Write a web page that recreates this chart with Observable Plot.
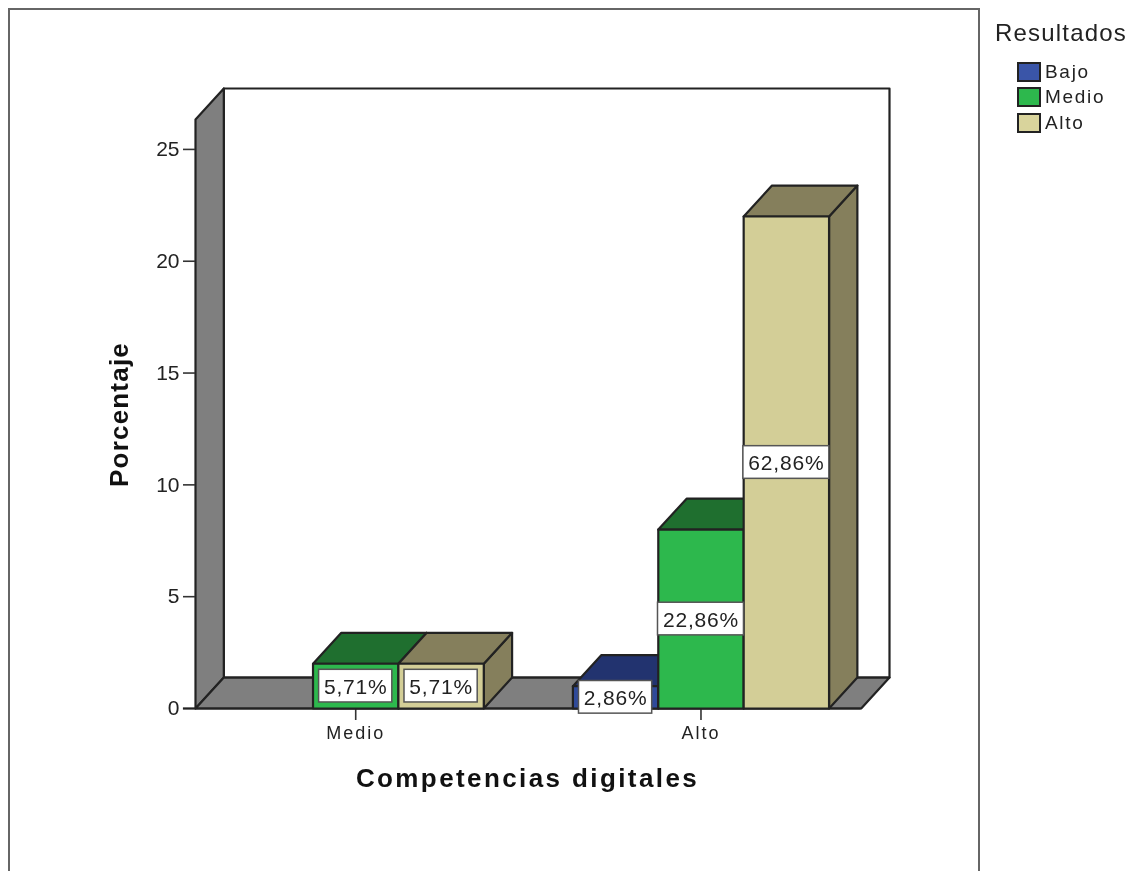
<!DOCTYPE html>
<html lang="es">
<head>
<meta charset="utf-8">
<script src="https://cdn.jsdelivr.net/npm/d3@7"></script>
<script src="https://cdn.jsdelivr.net/npm/@observablehq/plot@0.6"></script>
<style>
  html,body{margin:0;padding:0;background:#fff;}
  #wrap{position:relative;width:1137px;height:871px;overflow:hidden;font-family:"Liberation Sans",Arial,sans-serif;color:#222;filter:blur(0.5px);}
  #frame{position:absolute;left:8px;top:8px;width:968px;height:875px;border:2px solid #666;box-sizing:content-box;}
  #legend{position:absolute;left:995px;top:20px;}
  #legend .t{font-size:24px;letter-spacing:1.2px;line-height:26px;white-space:nowrap;}
  #legend .r{position:absolute;left:22px;height:20px;display:flex;align-items:center;font-size:19px;letter-spacing:1.7px;white-space:nowrap;}
  #legend .s{width:20px;height:16px;border:2px solid #222;margin-right:4px;letter-spacing:0;}
  svg{position:absolute;left:0;top:0;overflow:visible;}
  svg .pct{letter-spacing:0.8px;}
  svg .ylab{letter-spacing:1.2px;}
  svg .xlab{letter-spacing:2.4px;}
  svg g[aria-label="x-axis tick label"]{letter-spacing:2px;}
</style>
</head>
<body>
<div id="wrap"><div id="frame"></div><div id="legend"></div></div>
<script>
const categories = ["Medio", "Alto"];
const series = ["Bajo", "Medio", "Alto"];
const catOfBar = ["Medio", "Medio", "Alto", "Alto", "Alto"];
const seriesOfBar = ["Medio", "Alto", "Bajo", "Medio", "Alto"];
const valueOfBar = [2, 2, 1, 8, 22];
const labelOfBar = ["5,71%", "5,71%", "2,86%", "22,86%", "62,86%"];
const yTicks = [0, 5, 10, 15, 20, 25];
const frontColors = ["#2f4a9a", "#2db84d", "#d3ce97"];
const darkColors = ["#22336f", "#1f6f2f", "#857f5c"];

const barW = 0.2473, depthX = 0.082, depthY = 1.384;
const xMin = -0.464, xMax = 1.464, yTop = 26.34;
const ink = "#222", sw = 2.2;

const bars = valueOfBar.map((v, i) => {
  const c = categories.indexOf(catOfBar[i]);
  const s = series.indexOf(seriesOfBar[i]);
  const x1 = c + (s - 1.5) * barW;
  return {v, s, c, x1, x2: x1 + barW, label: labelOfBar[i]};
});

const poly = (pts, fill, stroke = ink) => Plot.line(
  [...pts, pts[0]].map(([x, y]) => ({x, y})),
  {x: "x", y: "y", fill, stroke, strokeWidth: sw, strokeLinejoin: "round"}
);

const walls = [
  poly([[xMin + depthX, depthY], [xMin + depthX, yTop + depthY], [xMax + depthX, yTop + depthY], [xMax + depthX, depthY]], "#fff"),
  poly([[xMin, 0], [xMin, yTop], [xMin + depthX, yTop + depthY], [xMin + depthX, depthY]], "#7f7f7f"),
  poly([[xMin, 0], [xMax, 0], [xMax + depthX, depthY], [xMin + depthX, depthY]], "#7f7f7f")
];

const barMarks = bars.flatMap(b => [
  poly([[b.x2, 0], [b.x2, b.v], [b.x2 + depthX, b.v + depthY], [b.x2 + depthX, depthY]], darkColors[b.s]),
  poly([[b.x1, b.v], [b.x2, b.v], [b.x2 + depthX, b.v + depthY], [b.x1 + depthX, b.v + depthY]], darkColors[b.s]),
  poly([[b.x1, 0], [b.x2, 0], [b.x2, b.v], [b.x1, b.v]], frontColors[b.s])
]);

const labels = bars.map(b => {
  const half = b.label.length > 5 ? 0.1245 : 0.106;
  return {cx: (b.x1 + b.x2) / 2, cy: b.v / 2, half, label: b.label};
});

const chart = Plot.plot({
  width: 1137,
  height: 871,
  marginLeft: 195,
  marginRight: 248,
  marginTop: 88,
  marginBottom: 163,
  style: {fontFamily: '"Liberation Sans",Arial,sans-serif', background: "transparent", color: "#222"},
  x: {domain: [xMin, xMax + depthX]},
  y: {domain: [0, yTop + depthY]},
  marks: [
    ...walls,
    Plot.axisY({ticks: yTicks, tickSize: 12, tickPadding: 4, fontSize: 21, label: null, tickFormat: d => String(d), strokeWidth: 1.6, stroke: "#333"}),
    Plot.axisX({ticks: [0, 1], tickSize: 12, tickPadding: 6, fontSize: 18, label: null, tickFormat: d => categories[d], strokeWidth: 1.6, stroke: "#333"}),
    Plot.ruleY([0], {x1: xMin - 0.035, x2: xMax, stroke: ink, strokeWidth: sw}),
    ...barMarks,
    Plot.rect(labels, {x1: d => d.cx - d.half, x2: d => d.cx + d.half, y1: d => d.cy - 0.73, y2: d => d.cy + 0.73, fill: "#fff", stroke: "#555", strokeWidth: 1.5}),
    Plot.text(labels, {x: "cx", y: "cy", text: "label", fontSize: 21, fill: "#222", dy: 1, lineAnchor: "middle", className: "pct"}),
    Plot.text(["Porcentaje"], {frameAnchor: "left", textAnchor: "middle", rotate: -90, dx: -76, dy: 16, fontSize: 26, fontWeight: "bold", fill: "#111", className: "ylab"}),
    Plot.text(["Competencias digitales"], {frameAnchor: "bottom", dx: -15, dy: 78, fontSize: 26, fontWeight: "bold", fill: "#111", className: "xlab"})
  ]
});
document.getElementById("wrap").appendChild(chart);

const legend = document.getElementById("legend");
const tDiv = document.createElement("div");
tDiv.className = "t";
tDiv.textContent = "Resultados";
legend.appendChild(tDiv);
series.forEach((name, i) => {
  const r = document.createElement("div");
  r.className = "r";
  r.style.top = (42 + i * 25.3) + "px";
  const s = document.createElement("div");
  s.className = "s";
  s.style.background = ["#3a55a8", "#2db84d", "#d9d49c"][i];
  const l = document.createElement("span");
  l.textContent = name;
  r.append(s, l);
  legend.appendChild(r);
});
</script>
</body>
</html>
